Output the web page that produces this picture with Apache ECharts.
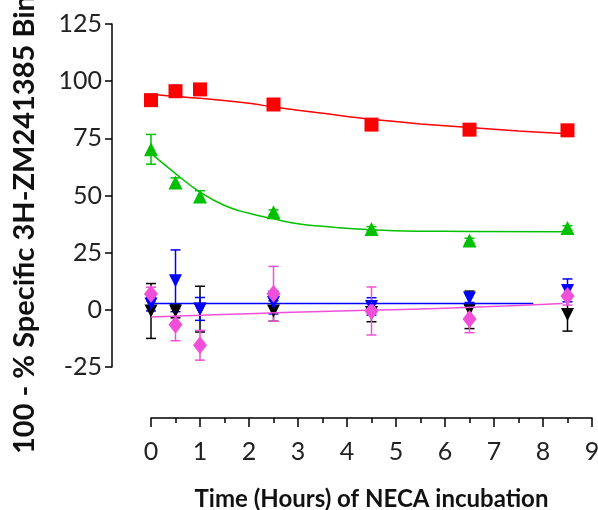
<!DOCTYPE html>
<html>
<head>
<meta charset="utf-8">
<script src="https://cdn.jsdelivr.net/npm/echarts@6/dist/echarts.min.js"></script>
<style>
  html, body { margin: 0; padding: 0; background: #fff; }
  #chart { width: 598px; height: 510px; }
</style>
</head>
<body>
<div id="chart"></div>
<script>
// sampling times (hours)
const times = [0, 0.5, 1, 2.5, 4.5, 6.5, 8.5];

// means and error bars per series
const redMean = [91.7, 95.6, 96.4, 89.8, 81, 78.8, 78.5];
const greenMean = [70.2, 55.7, 49.6, 42.7, 35.4, 30.3, 35.8];
const greenErr = [6.5, 2, 2.5, 1, 1, 1, 1];
const blueMean = [2.5, 12.7, 0.4, 3.2, 1.5, 5.2, 8.5];
const blueErr = [3, 13.5, 5, 5, 3.8, 2, 5];
const blackMean = [-0.5, -0.5, 0.3, -0.5, -1.2, 0, -2];
const blackErr = [12, 3, 10, 4.5, 4, 8.2, 7.3];
const pinkMean = [6.9, -6.5, -15.5, 7, -0.5, -4, 6.1];
const pinkErr = [3, 7, 6.5, 12, 10.5, 6, 4];

// fitted curves
const redFitX = [0, 1, 2, 2.5, 3.5, 4.5, 5.5, 6.5, 7.5, 8.5];
const redFitY = [94.2, 92.5, 90.3, 88.7, 86, 83.3, 81.3, 79.7, 78.2, 77.0];
const greenFitX = [0, 0.5, 1, 1.5, 2, 2.5, 3, 3.5, 4.5, 5.5, 6.5, 8.5];
const greenFitY = [68.4, 59.6, 51.5, 45.6, 42.2, 39.8, 37.6, 36.5, 35, 34.4, 34.3, 34.2];
const blueFitX = [0, 7.8];
const blueFitY = [2.8, 2.8];
const pinkFitX = [0, 1.3, 2.7, 4.6, 6.4, 8.4];
const pinkFitY = [-3.1, -2.2, -1.2, -0.1, 1.0, 2.8];

const yTicks = [-25, 0, 25, 50, 75, 100, 125];

const FONT = 'Lato, "Open Sans", sans-serif';

const zip = (xs, ys) => xs.map((x, i) => [x, ys[i]]);
const zip3 = (xs, ys, es) => xs.map((x, i) => [x, ys[i], es[i]]);

function errSeries(color, mean, err) {
    return {
        type: 'custom',
        clip: false,
        encode: { x: 0, y: 1 },
        data: zip3(times, mean, err),
        renderItem: function (params, api) {
            const x = api.value(0), y = api.value(1), e = api.value(2);
            const top = api.coord([x, y + e]);
            const bot = api.coord([x, y - e]);
            const hw = 5;
            const st = { stroke: color, lineWidth: 1.5 };
            return {
                type: 'group',
                children: [
                    { type: 'line', shape: { x1: top[0], y1: top[1], x2: bot[0], y2: bot[1] }, style: st },
                    { type: 'line', shape: { x1: top[0] - hw, y1: top[1], x2: top[0] + hw, y2: top[1] }, style: st },
                    { type: 'line', shape: { x1: bot[0] - hw, y1: bot[1], x2: bot[0] + hw, y2: bot[1] }, style: st }
                ]
            };
        }
    };
}

function fitSeries(color, xs, ys, smooth) {
    return {
        type: 'line', data: zip(xs, ys), smooth: smooth, showSymbol: false,
        lineStyle: { color: color, width: 1.5 }, silent: true
    };
}

function pointSeries(color, mean, symbol, size, rotate) {
    return {
        type: 'scatter', data: zip(times, mean), symbol: symbol, symbolSize: size,
        symbolRotate: rotate || 0, itemStyle: { color: color, opacity: 1 }
    };
}

const chart = echarts.init(document.getElementById('chart'));
chart.setOption({
    animation: false,
    grid: { left: 151, right: 6, top: 24, bottom: 143, containLabel: false, outerBoundsMode: 'none' },
    xAxis: {
        type: 'value', min: 0, max: 9, interval: 1, offset: 51,
        axisLine: { show: true, onZero: false, lineStyle: { color: '#000', width: 1.5 } },
        axisTick: { show: true, length: 9, lineStyle: { color: '#000', width: 1.5 } },
        minorTick: { show: true, splitNumber: 2, length: 5, lineStyle: { color: '#000', width: 1.5 } },
        splitLine: { show: false },
        axisLabel: { color: '#222', fontFamily: FONT, fontSize: 25, margin: 21 },
        name: 'Time (Hours) of NECA incubation', nameLocation: 'middle', nameGap: 69,
        nameTextStyle: { color: '#111', fontFamily: FONT, fontWeight: 'bold', fontSize: 24 }
    },
    yAxis: {
        type: 'value', min: yTicks[0], max: yTicks[yTicks.length - 1], interval: 25, offset: 39,
        axisLine: { show: true, onZero: false, lineStyle: { color: '#000', width: 1.5 } },
        axisTick: { show: true, length: 7, lineStyle: { color: '#000', width: 1.5 } },
        splitLine: { show: false },
        axisLabel: { color: '#222', fontFamily: FONT, fontSize: 25, margin: 10 }
    },
    graphic: [{
        type: 'text', x: 25, y: 454, rotation: Math.PI / 2,
        style: {
            text: '100 - % Specific 3H-ZM241385 Binding',
            fill: '#111', font: 'bold 29px Lato, "Open Sans", sans-serif',
            textAlign: 'left', textVerticalAlign: 'middle'
        }
    }],
    series: [
        errSeries('#000000', blackMean, blackErr),
        pointSeries('#000000', blackMean, 'triangle', 13, 180),
        fitSeries('#0000ff', blueFitX, blueFitY, false),
        errSeries('#0000ff', blueMean, blueErr),
        pointSeries('#0000ff', blueMean, 'triangle', 13, 180),
        fitSeries('#f050d8', pinkFitX, pinkFitY, true),
        errSeries('#f050d8', pinkMean, pinkErr),
        pointSeries('#f050d8', pinkMean, 'diamond', [14, 18]),
        fitSeries('#00c000', greenFitX, greenFitY, true),
        errSeries('#00c000', greenMean, greenErr),
        pointSeries('#00c000', greenMean, 'triangle', 14),
        fitSeries('#ff0000', redFitX, redFitY, 0.3),
        pointSeries('#ff0000', redMean, 'rect', 14)
    ]
});
</script>
</body>
</html>
